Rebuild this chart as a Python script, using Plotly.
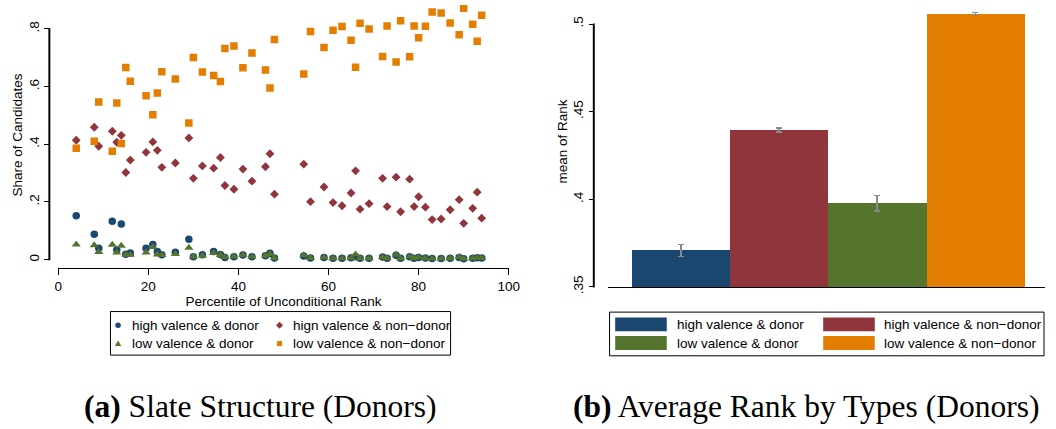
import plotly.graph_objects as go

# ---------------- data ----------------
pct = [4, 8, 9, 12, 13, 14, 15, 16, 19.5, 21, 22, 23, 26, 29, 30, 32, 34.5, 36, 37, 39,
       41, 43, 46, 47, 48, 54.5, 56, 59, 61, 63, 65, 66, 67, 69, 72, 73, 75, 76, 78, 79,
       80, 81.5, 83, 85, 87, 89, 90, 92, 93, 94]

high_donor = [.152, .088, .040, .133, .034, .124, .019, .023, .040, .053, .028, .017, .026, .071, .010, .017, .028, .018, .008, .010,
              .016, .010, .014, .022, .006, .013, .006, .008, .005, .005, .007, .010, .005, .005, .009, .005, .015, .005, .010, .005,
              .008, .006, .004, .004, .005, .008, .003, .005, .007, .006]
high_nondonor = [.414, .459, .393, .445, .407, .431, .302, .345, .372, .408, .379, .320, .335, .422, .282, .325, .317, .354, .257, .244,
                 .314, .272, .322, .367, .227, .331, .201, .252, .198, .187, .231, .308, .175, .194, .282, .184, .286, .166, .279, .184,
                 .218, .182, .139, .141, .173, .208, .126, .178, .234, .144]
low_donor = [.053, .050, .027, .052, .025, .048, .017, .017, .025, .044, .018, .016, .020, .041, .010, .014, .023, .016, .009, .011,
             .016, .010, .014, .020, .006, .015, .006, .008, .005, .005, .006, .018, .005, .005, .009, .005, .017, .004, .011, .005,
             .009, .006, .004, .004, .005, .009, .003, .005, .007, .006]
low_nondonor = [.386, .410, .546, .376, .543, .403, .666, .618, .568, .502, .578, .651, .626, .474, .701, .650, .638, .617, .732, .740,
                .665, .716, .657, .595, .763, .643, .791, .735, .795, .808, .760, .667, .819, .799, .704, .810, .685, .828, .703, .810,
                .769, .809, .858, .855, .820, .779, .871, .816, .757, .847]

scatter_names = ["high valence & donor", "hign valence & non\u2212donor",
                 "low valence & donor", "low valence & non\u2212donor"]

bar_labels = ["high valence & donor", "high valence & non\u2212donor",
              "low valence & donor", "low valence & non\u2212donor"]
bar_means = [0.3708, 0.4396, 0.3977, 0.5057]
bar_err = [0.0035, 0.0012, 0.0045, 0.0008]

x_ticks = [0, 20, 40, 60, 80, 100]
x_ticktext = ["0", "20", "40", "60", "80", "100"]
y_ticks = [0, 0.2, 0.4, 0.6, 0.8]
y_ticktext = ["0", ".2", ".4", ".6", ".8"]
y2_ticks = [0.35, 0.40, 0.45, 0.50]
y2_ticktext = [".35", ".4", ".45", ".5"]

# ---------------- style ----------------
W, H = 1056, 429
C_BLUE, C_RED, C_GREEN, C_ORANGE = "#1a476f", "#90353b", "#55752f", "#e37e00"
colors = [C_BLUE, C_RED, C_GREEN, C_ORANGE]
symbols = ["circle", "diamond", "triangle-up", "square"]
msizes = [7.5, 6.8, 8, 7.5]
SANS = "Liberation Sans, Arial, Helvetica, sans-serif"
SERIF = "Liberation Serif, Times New Roman, serif"
FS = 13.5


def fx(p):
    return p / W


def fy(p):
    return 1 - p / H


fig = go.Figure()

series = [high_donor, high_nondonor, low_donor, low_nondonor]
for name, ys, sym, sz, col in zip(scatter_names, series, symbols, msizes, colors):
    fig.add_trace(go.Scatter(
        x=pct, y=ys, mode="markers", name=name, showlegend=False,
        marker=dict(symbol=sym, size=sz, color=col, line=dict(width=0)),
        xaxis="x", yaxis="y"))

fig.add_trace(go.Bar(
    x=bar_labels, y=bar_means, width=1, showlegend=False,
    marker=dict(color=colors, line=dict(width=0)),
    error_y=dict(type="data", array=bar_err, color="#8a8a8a", thickness=1.5, width=3),
    xaxis="x2", yaxis="y2"))

# pixel geometry of the two panels
L_X0, L_X1 = 55, 512          # x=0 .. x=100
L_YAX = 46                     # left y axis line
L_TOP, L_BOT = 5, 272
ly_per = 293.4                 # px per unit
ly_zero = 264
R_YAX = 598.3
R_X0 = 612.3
R_BOT, R_TOP = 291.7, 0
ry_per = 1782.0
r_unit = 99.6
r_bar0 = 636.7

lrange = [(ly_zero - L_BOT) / ly_per, (ly_zero - L_TOP) / ly_per]
rrange = [0.35, 0.35 + (R_BOT - R_TOP) / ry_per]
xr0 = -0.5 - (r_bar0 - R_X0) / r_unit
xr1 = xr0 + (W - R_X0) / r_unit


def ly_px(v):
    return ly_zero - v * ly_per


def ry_px(v):
    return R_BOT - (v - 0.35) * ry_per


axis_common = dict(showgrid=False, zeroline=False, tickcolor="black", tickwidth=1.2,
                   tickfont=dict(family=SANS, size=FS, color="black"))

fig.update_layout(
    width=W, height=H, margin=dict(l=0, r=0, t=0, b=0),
    paper_bgcolor="white", plot_bgcolor="white",
    font=dict(family=SANS, size=FS, color="black"),
    bargap=0,
    xaxis=dict(domain=[fx(L_X0), fx(L_X1)], range=[0, 100], anchor="y",
               tickvals=x_ticks, ticktext=x_ticktext, ticks="outside", ticklen=6,
               showline=True, linecolor="black", linewidth=1.3,
               title=dict(text="Percentile of Unconditional Rank", standoff=0,
                          font=dict(family=SANS, size=FS)),
               **axis_common),
    yaxis=dict(domain=[fy(L_BOT), fy(L_TOP)], range=lrange, anchor="free", position=fx(L_YAX),
               tickvals=y_ticks, ticktext=y_ticktext, tickangle=-90, ticks="outside", ticklen=5,
               showline=False, **axis_common),
    xaxis2=dict(domain=[fx(R_X0), 1], range=[xr0, xr1], anchor="y2", type="category",
                showticklabels=False, ticks="", showline=True, linecolor="black", linewidth=1.3,
                **axis_common),
    yaxis2=dict(domain=[fy(R_BOT), fy(R_TOP)], range=rrange, anchor="free", position=fx(R_YAX),
                tickvals=y2_ticks, ticktext=y2_ticktext, tickangle=-90, ticks="outside", ticklen=5,
                showline=False, **axis_common),
)

shapes = []
# y axis lines spanning only the tick range (Stata style)
for xpos, ytop, ybot in [(L_YAX, ly_px(y_ticks[-1]), ly_px(y_ticks[0])),
                         (R_YAX, ry_px(y2_ticks[-1]), ry_px(y2_ticks[0]))]:
    shapes.append(dict(type="rect", xref="paper", yref="paper", layer="above",
                       x0=fx(xpos - 1.0), x1=fx(xpos + 1.0), y0=fy(ybot + 0.6), y1=fy(ytop - 0.6),
                       fillcolor="black", line=dict(width=0)))

annotations = []


def text_at(x, y, s, anchor="left", size=FS, family=SANS, angle=0):
    annotations.append(dict(x=fx(x), y=fy(y), xref="paper", yref="paper", text=s,
                            showarrow=False, xanchor=anchor, yanchor="middle", textangle=angle,
                            font=dict(family=family, size=size, color="black")))


# y axis titles
text_at(14, 137, "Share of Candidates", anchor="center", angle=-90)
text_at(567, 144, "mean of Rank", anchor="center", angle=-90)

# ---- left legend ----
shapes.append(dict(type="rect", xref="paper", yref="paper", x0=fx(108), x1=fx(453),
                   y0=fy(361), y1=fy(316.7), line=dict(color="black", width=1), fillcolor="rgba(0,0,0,0)"))
rows = [330.7, 349.3]
cols_sym = [115.7, 279.5]
cols_txt = [128.3, 291]
pos = [(0, 0), (1, 0), (0, 1), (1, 1)]
for i, (c, r) in enumerate(pos):
    cx, cy = cols_sym[c], rows[r]
    col = colors[i]
    if symbols[i] == "circle":
        shapes.append(dict(type="circle", xref="paper", yref="paper", x0=fx(cx - 2.8), x1=fx(cx + 2.8),
                           y0=fy(cy + 2.8), y1=fy(cy - 2.8), fillcolor=col, line=dict(width=0)))
    elif symbols[i] == "square":
        shapes.append(dict(type="rect", xref="paper", yref="paper", x0=fx(cx - 2.6), x1=fx(cx + 2.6),
                           y0=fy(cy + 2.6), y1=fy(cy - 2.6), fillcolor=col, line=dict(width=0)))
    elif symbols[i] == "diamond":
        p = f"M {fx(cx - 3.6)} {fy(cy)} L {fx(cx)} {fy(cy - 3.6)} L {fx(cx + 3.6)} {fy(cy)} L {fx(cx)} {fy(cy + 3.6)} Z"
        shapes.append(dict(type="path", xref="paper", yref="paper", path=p, fillcolor=col, line=dict(width=0)))
    else:
        p = f"M {fx(cx - 3.3)} {fy(cy + 2.5)} L {fx(cx + 3.3)} {fy(cy + 2.5)} L {fx(cx)} {fy(cy - 3.2)} Z"
        shapes.append(dict(type="path", xref="paper", yref="paper", path=p, fillcolor=col, line=dict(width=0)))
    text_at(cols_txt[c], cy, scatter_names[i])

# ---- right legend ----
shapes.append(dict(type="rect", xref="paper", yref="paper", x0=fx(614.3), x1=fx(1055),
                   y0=fy(361.7), y1=fy(317.3), line=dict(color="black", width=1), fillcolor="rgba(0,0,0,0)"))
sw_x = [(620, 672.3), (831, 883.3)]
sw_y = [(322.7, 336.7), (341.7, 355.7)]
txt_x = [680.7, 890.7]
for i, (c, r) in enumerate(pos):
    shapes.append(dict(type="rect", xref="paper", yref="paper", x0=fx(sw_x[c][0]), x1=fx(sw_x[c][1]),
                       y0=fy(sw_y[r][1]), y1=fy(sw_y[r][0]), fillcolor=colors[i], line=dict(width=0)))
    text_at(txt_x[c], (sw_y[r][0] + sw_y[r][1]) / 2, bar_labels[i])

# ---- captions ----
text_at(260, 413, "<b>(a)</b> Slate Structure (Donors)", anchor="center", size=31.5, family=SERIF)
text_at(814, 413, "<b>(b)</b> Average Rank by Types (Donors)", anchor="center", size=31.5, family=SERIF)

fig.update_layout(shapes=shapes, annotations=annotations)
fig.write_html("out.html")
